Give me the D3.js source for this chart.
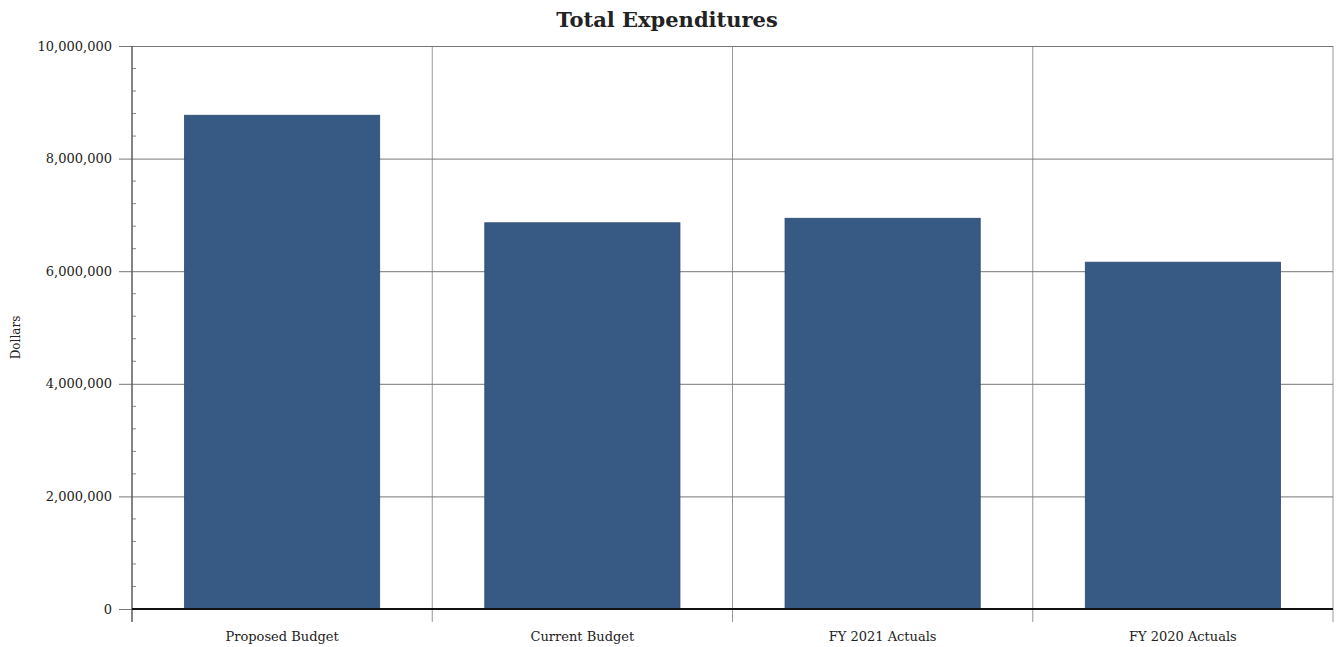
<!DOCTYPE html>
<html>
<head>
<meta charset="utf-8">
<script src="https://cdn.jsdelivr.net/npm/d3@7"></script>
<style>
  body { margin: 0; background: #fff; }
  text { font-family: "DejaVu Serif", serif; fill: #222; }
</style>
</head>
<body>
<svg id="chart" width="1336" height="647"></svg>
<script>
const categories = ['Proposed Budget', 'Current Budget', 'FY 2021 Actuals', 'FY 2020 Actuals'];
const values = [8770000, 6860000, 6940000, 6160000];
const yTicks = [0, 2000000, 4000000, 6000000, 8000000, 10000000];

const svg = d3.select('#chart');
const margin = { top: 46, right: 3, bottom: 38, left: 132 };
const W = 1336, H = 647;
const width = W - margin.left - margin.right;
const height = H - margin.top - margin.bottom;

const x = d3.scaleBand().domain(categories).range([0, width]).paddingInner(0.35).paddingOuter(0.175);
const y = d3.scaleLinear().domain([0, 10000000]).range([height, 0]);

const g = svg.append('g').attr('transform', 'translate(' + margin.left + ',' + margin.top + ')');

// title
svg.append('text')
  .attr('x', 667).attr('y', 27)
  .attr('text-anchor', 'middle')
  .style('font-size', '21px').style('font-weight', 'bold')
  .text('Total Expenditures');

// y label
svg.append('text')
  .attr('transform', 'translate(20,' + (margin.top + height / 2 + 10) + ') rotate(-90)')
  .attr('text-anchor', 'middle')
  .style('font-size', '12px')
  .text('Dollars');

// vertical grid at category boundaries
const step = width / categories.length;
const bounds = d3.range(categories.length + 1).map(i => i * step);
g.selectAll('.vgrid').data(bounds).enter().append('line')
  .attr('class', 'vgrid')
  .attr('x1', d => d).attr('x2', d => d)
  .attr('y1', 0).attr('y2', height + 13)
  .attr('stroke', '#999').attr('stroke-width', 1);

// horizontal grid + y axis
const yAxis = g.append('g')
  .call(d3.axisLeft(y).tickValues(yTicks).tickFormat(d3.format(',')).tickSize(-width).tickPadding(8));
yAxis.select('.domain').remove();
yAxis.selectAll('.tick line').attr('stroke', '#777').attr('x1', -13);
yAxis.selectAll('.tick text').attr('x', -20).style('font-size', '13px').style('font-family', '"DejaVu Serif", serif').attr('fill', '#222');

// minor ticks
const minor = d3.range(0, 10000001, 400000).filter(v => v % 2000000 !== 0);
g.selectAll('.minor').data(minor).enter().append('line')
  .attr('x1', 0).attr('x2', 4)
  .attr('y1', d => y(d)).attr('y2', d => y(d))
  .attr('stroke', '#888');

// y axis line
g.append('line').attr('x1', 0).attr('x2', 0).attr('y1', 0).attr('y2', height + 13)
  .attr('stroke', '#555').attr('stroke-width', 1.2);

// bars
g.selectAll('.bar').data(values).enter().append('rect')
  .attr('class', 'bar')
  .attr('x', (d, i) => x(categories[i]))
  .attr('y', d => y(d))
  .attr('width', x.bandwidth())
  .attr('height', d => height - y(d))
  .attr('fill', '#365a84')
  .attr('stroke', '#2c4a6e').attr('stroke-width', 0.8);

// zero line
g.append('line').attr('x1', 0).attr('x2', width).attr('y1', height).attr('y2', height)
  .attr('stroke', '#111').attr('stroke-width', 2);

// x labels
g.selectAll('.xlab').data(categories).enter().append('text')
  .attr('x', d => x(d) + x.bandwidth() / 2)
  .attr('y', height + 32)
  .attr('text-anchor', 'middle')
  .style('font-size', '13px')
  .text(d => d);
</script>
</body>
</html>
